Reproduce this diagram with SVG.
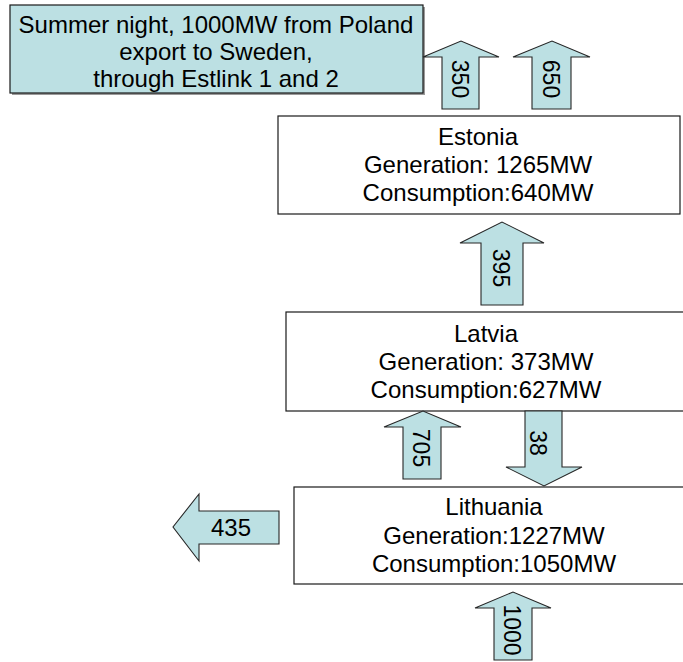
<svg xmlns="http://www.w3.org/2000/svg" width="683" height="662" viewBox="0 0 683 662">
<style>
text{font-family:"Liberation Sans",Arial,sans-serif;fill:#000}
.box{fill:#fff;stroke:#1a1a1a;stroke-width:1.2}
.note{fill:#bce0e3;stroke:#1a1a1a;stroke-width:1.2}
.shadow{fill:#9a9a9a}
.arrow{fill:#bce0e3;stroke:#262626;stroke-width:1.1;stroke-linejoin:miter}
.t{font-size:24px;text-anchor:middle}
.n{font-size:23px;text-anchor:middle;dominant-baseline:central}
</style>
<rect width="683" height="662" fill="#fff"/>
<g id="title">
<rect class="shadow" x="12" y="7" width="413" height="88"/>
<rect class="note" x="10" y="5" width="413" height="88"/>
<text class="t" x="216" y="33" font-size="23.6">Summer night, 1000MW from Poland</text>
<text class="t" x="216" y="60" font-size="23.6">export to Sweden,</text>
<text class="t" x="216" y="87" font-size="23.6">through Estlink 1 and 2</text>
</g>
<g id="estonia">
<rect class="box" x="278" y="116" width="402" height="98"/>
<text class="t" x="478" y="145">Estonia</text>
<text class="t" x="478" y="173">Generation: 1265MW</text>
<text class="t" x="478" y="201">Consumption:640MW</text>
</g>
<g id="latvia">
<rect class="box" x="286" y="312" width="400" height="99"/>
<text class="t" x="486" y="342">Latvia</text>
<text class="t" x="486" y="370">Generation: 373MW</text>
<text class="t" x="486" y="398">Consumption:627MW</text>
</g>
<g id="lithuania">
<rect class="box" x="294" y="487" width="400" height="97"/>
<text class="t" x="494" y="515">Lithuania</text>
<text class="t" x="494" y="544">Generation:1227MW</text>
<text class="t" x="494" y="572">Consumption:1050MW</text>
</g>
<g id="connectors">
<g id="a350">
<path class="arrow" d="M442,109 L442,57 L423,57 L461,41 L499,57 L479,57 L479,109 Z"/>
<text class="n" transform="translate(460,79) rotate(90)">350</text>
</g>
<g id="a650">
<path class="arrow" d="M532,109 L532,57 L513,57 L552,41 L590,57 L571,57 L571,109 Z"/>
<text class="n" transform="translate(551,79) rotate(90)">650</text>
</g>
<g id="a395">
<path class="arrow" d="M481,305 L481,243 L460,243 L502,222 L544,243 L523,243 L523,305 Z"/>
<text class="n" transform="translate(501,268) rotate(90)">395</text>
</g>
<g id="a705">
<path class="arrow" d="M403,479 L403,427 L384,427 L423,411 L461,427 L441,427 L441,479 Z"/>
<text class="n" transform="translate(421,448) rotate(90)">705</text>
</g>
<g id="a38">
<path class="arrow" d="M525,411 L525,467 L506,467 L544,486 L582,467 L562,467 L562,411 Z"/>
<text class="n" transform="translate(538,443) rotate(90)">38</text>
</g>
<g id="a435">
<path class="arrow" d="M279,511 L199,511 L199,494 L173,527 L199,561 L199,544 L279,544 Z"/>
<text class="t" x="231" y="536">435</text>
</g>
<g id="a1000">
<path class="arrow" d="M494,660 L494,608 L475,608 L513,592 L551,608 L532,608 L532,660 Z"/>
<text class="n" transform="translate(512,630) rotate(90)">1000</text>
</g>
</g>
</svg>
